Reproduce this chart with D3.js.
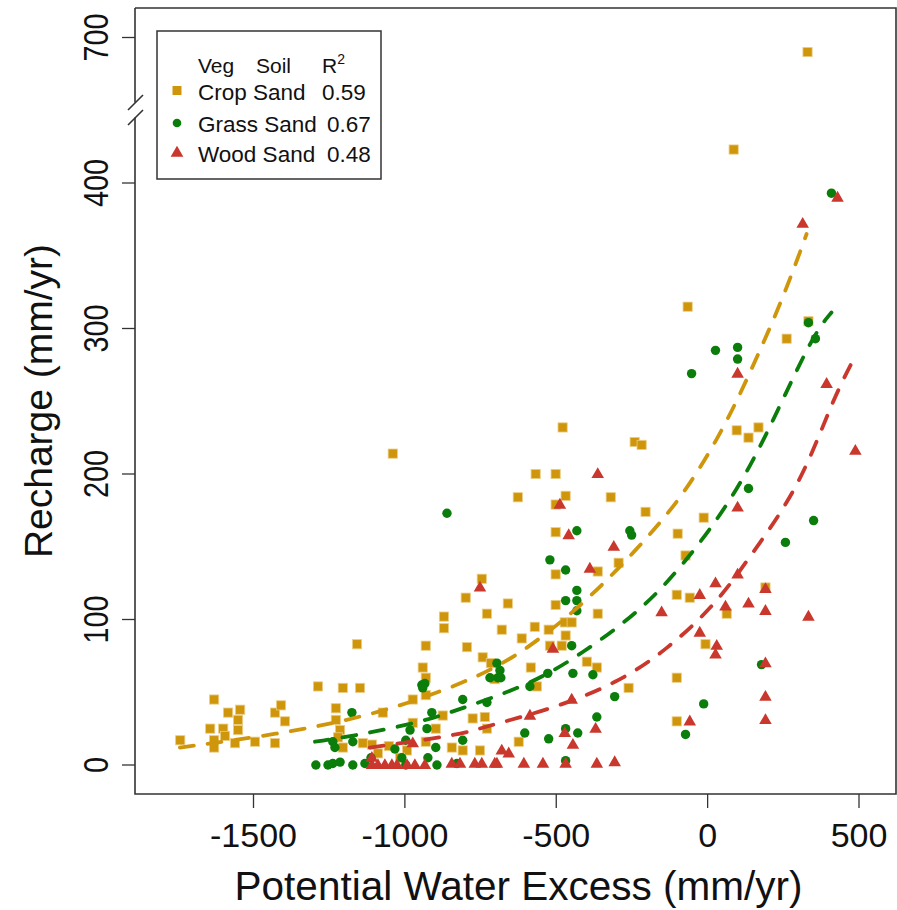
<!DOCTYPE html>
<html>
<head>
<meta charset="utf-8">
<script src="https://cdn.jsdelivr.net/npm/d3@7"></script>
<style>
  body { margin: 0; background: #fff; }
  svg text { font-family: "Liberation Sans", Arial, sans-serif; fill: #111; }
</style>
</head>
<body>
<svg id="chart" width="897" height="910"></svg>
<script>
// points: [potential water excess, recharge] in mm/yr
const cropPts = [
  [-1742,17],[-1630,45],[-1643,25],[-1584,36],[-1544,38],[-1551,31],[-1600,25],[-1594,20],
  [-1630,17],[-1630,12],[-1551,24],[-1561,15],[-1495,16],[-1429,15],[-1429,36],[-1409,41],
  [-1396,30],[-1287,54],[-1205,53],[-1148,53],[-1158,83],[-1228,39],[-1228,31],[-1214,24],
  [-1221,19],[-1205,12],[-1139,15],[-1109,14],[-1053,13],[-1073,36],[-974,45],[-941,67],
  [-931,82],[-931,60],[-931,48],[-974,29],[-898,25],[-931,16],[-993,10],[-1089,8],[-1016,5],
  [-875,34],[-871,102],[-871,94],[-799,115],[-795,81],[-845,12],[-809,10],[-776,32],
  [-736,33],[-729,25],[-743,74],[-716,70],[-752,10],[-1040,214],
  [-746,128],[-502,131],[-363,133],[-294,139],[-660,111],[-729,104],[-502,110],[-363,104],
  [-680,93],[-571,95],[-525,93],[-472,98],[-449,98],[-469,89],[-614,87],[-521,82],[-482,82],
  [-703,59],[-584,67],[-399,71],[-366,67],[-564,54],[-261,53],[-102,117],[-102,60],[-102,30],
  [-624,16],[-73,144],[-59,115],[63,104],[-7,83],[191,122],
  [-66,315],[261,293],[333,305],[-479,232],[-241,222],[-218,220],[96,230],[135,225],[168,232],
  [-568,200],[-502,200],[-627,184],[-469,185],[-320,184],[-502,179],[-205,174],[-13,170],
  [-502,160],[-99,159],[86,423],[330,690]
];
const grassPts = [
  [-1294,0],[-1254,0],[-1238,1],[-1214,2],[-1172,0],[-1175,36],[-1238,16],[-1231,12],
  [-1172,16],[-1132,1],[-1112,5],[-1033,11],[-997,17],[-983,24],[-1010,5],[-997,0],[-924,5],
  [-894,0],[-927,25],[-911,36],[-898,12],[-944,55],[-934,56],[-941,53],[-809,45],[-809,17],
  [-828,1],[-729,43],[-696,70],[-693,60],[-719,60],
  [-521,141],[-469,134],[-432,120],[-432,113],[-469,113],[-432,106],[-449,82],[-686,65],
  [-683,60],[-528,63],[-445,63],[-379,62],[-587,54],[-307,47],[-366,33],[-469,25],[-429,22],
  [-604,22],[-525,18],[-469,3],[-13,42],[-73,21],[178,69],
  [333,304],[356,293],[26,285],[99,287],[99,279],[-53,269],[135,190],[350,168],[257,153],
  [-432,161],[-257,161],[-251,158],[-861,173],[409,393]
];
const woodPts = [
  [-1109,0],[-1089,0],[-1066,0],[-1043,0],[-1026,0],[-993,0],[-967,0],[-934,0],[-1109,5],
  [-974,15],[-845,1],[-818,1],[-769,1],[-696,1],[-746,1],[-703,1],[-607,1],[-544,1],
  [-469,1],[-366,1],[-307,2],
  [-389,135],[-752,122],[-511,80],[-152,105],[-449,45],[-587,34],[-472,22],[-370,25],
  [-445,14],[-680,10],[-657,8],[-310,150],[-26,117],[26,125],[99,131],[59,109],[135,111],
  [191,121],[191,106],[333,102],[-26,91],[30,82],[26,76],[191,70],[191,47],[191,31],
  [-59,30],[99,269],[393,262],[488,216],[-363,200],[-488,179],[-459,158],[99,177],
  [314,372],[429,390]
];

// fitted curves
const cropFit = [[-1743,12],[-1386,22],[-1073,36],[-809,56],[-630,74],[-412,110],
  [-234,148],[-83,184],[50,230],[139,269],[248,320],[327,365]];
const grassFit = [[-1297,16],[-1139,21],[-917,31],[-785,41],[-578,56],[-412,77],
  [-234,104],[-92,134],[106,189],[248,251],[353,297],[409,311]];
const woodFit = [[-1116,12],[-809,21],[-743,26],[-521,38],[-300,56],[-135,79],
  [30,111],[139,143],[304,191],[413,251],[485,280]];

const xTicks = [-1500, -1000, -500, 0, 500];
const yTicks = [0, 100, 200, 300, 400, 700];
const breakGap = 200;   // values above the axis break are shifted down by this

const legendRows = [
  { veg: "Crop Sand", r2: "0.59" },
  { veg: "Grass Sand", r2: "0.67" },
  { veg: "Wood Sand", r2: "0.48" }
];

const cropCol = "#CF960C", grassCol = "#0A7D0A", woodCol = "#C9372D";

const svg = d3.select("#chart");
const box = { left: 135, right: 896, top: 8, bottom: 794 };

const x = d3.scaleLinear().domain([-1500, 500]).range([253.5, 859]);
const y = d3.scaleLinear().domain([0, 500]).range([765, 37.5]);
const yPos = v => y(v > 550 ? v - breakGap : v);

// points
const pts = svg.append("g");
pts.selectAll("rect.crop").data(cropPts).join("rect")
    .attr("class", "crop")
    .attr("x", d => x(d[0]) - 4.6)
    .attr("y", d => yPos(d[1]) - 4.6)
    .attr("width", 9.2).attr("height", 9.2)
    .attr("fill", cropCol)
    .attr("stroke", "#ebcd85").attr("stroke-width", 0.8);

pts.selectAll("circle.grass").data(grassPts).join("circle")
    .attr("class", "grass")
    .attr("cx", d => x(d[0]))
    .attr("cy", d => yPos(d[1]))
    .attr("r", 4.7)
    .attr("fill", grassCol);

const tri = d3.symbol(d3.symbolTriangle, 68);
pts.selectAll("path.wood").data(woodPts).join("path")
    .attr("class", "wood")
    .attr("transform", d => `translate(${x(d[0])},${yPos(d[1]) + 0.5})`)
    .attr("d", tri)
    .attr("fill", woodCol);

// dashed fit lines
const lineGen = d3.line()
    .x(d => x(d[0]))
    .y(d => yPos(d[1]))
    .curve(d3.curveBasis);

[[cropFit, cropCol], [grassFit, grassCol], [woodFit, woodCol]].forEach(([fit, col]) => {
    svg.append("path")
        .datum(fit)
        .attr("fill", "none")
        .attr("stroke", col)
        .attr("stroke-width", 3.8)
        .attr("stroke-linecap", "round")
        .attr("stroke-dasharray", "14,14")
        .attr("d", lineGen);
});

// frame with broken left axis
const frame = svg.append("g").attr("stroke", "#333").attr("stroke-width", 1.6).attr("fill", "none");
frame.append("path").attr("d",
    `M${box.left},${box.top}H${box.right}V${box.bottom}H${box.left}V117.5`);
frame.append("path").attr("d", `M${box.left},102.5V${box.top}`);
frame.append("line").attr("x1", 128).attr("y1", 110).attr("x2", 143).attr("y2", 95);
frame.append("line").attr("x1", 128).attr("y1", 125).attr("x2", 143).attr("y2", 110);

// x axis
const xAxis = svg.append("g");
xAxis.selectAll("line").data(xTicks).join("line")
    .attr("x1", d => x(d)).attr("x2", d => x(d))
    .attr("y1", box.bottom).attr("y2", box.bottom + 14)
    .attr("stroke", "#333").attr("stroke-width", 1.3);
xAxis.selectAll("text").data(xTicks).join("text")
    .attr("x", d => x(d)).attr("y", 847)
    .attr("text-anchor", "middle")
    .attr("font-size", 34)
    .text(d => d);

// y axis
const yAxis = svg.append("g");
yAxis.selectAll("line").data(yTicks).join("line")
    .attr("x1", box.left - 13).attr("x2", box.left)
    .attr("y1", d => yPos(d)).attr("y2", d => yPos(d))
    .attr("stroke", "#333").attr("stroke-width", 1.3);
yAxis.selectAll("text").data(yTicks).join("text")
    .attr("transform", d => `translate(108,${yPos(d)}) rotate(-90) scale(0.8,1)`)
    .attr("text-anchor", "middle")
    .attr("font-size", 36)
    .text(d => d);

// axis titles
svg.append("text")
    .attr("x", (box.left + box.right) / 2 + 3).attr("y", 900)
    .attr("text-anchor", "middle")
    .attr("font-size", 40.5)
    .text("Potential Water Excess (mm/yr)");
svg.append("text")
    .attr("transform", `translate(52,${(box.top + box.bottom) / 2}) rotate(-90)`)
    .attr("text-anchor", "middle")
    .attr("font-size", 39)
    .text("Recharge (mm/yr)");

// legend
const legend = svg.append("g");
legend.append("rect")
    .attr("x", 157).attr("y", 31).attr("width", 224).attr("height", 148)
    .attr("fill", "#fff").attr("stroke", "#333").attr("stroke-width", 1.5);
const head = legend.append("g");
head.append("text").attr("x", 198).attr("y", 73).attr("font-size", 21).text("Veg");
head.append("text").attr("x", 256).attr("y", 73).attr("font-size", 21).text("Soil");
const r2 = head.append("text").attr("x", 322).attr("y", 73).attr("font-size", 21);
r2.append("tspan").text("R");
r2.append("tspan").attr("dy", -9).attr("font-size", 14).text("2");

const rowY = [100, 132, 162];
const r2X = [322, 327, 327];
legend.selectAll("text.lab").data(legendRows).join("text")
    .attr("class", "lab")
    .attr("x", 198).attr("y", (d, i) => rowY[i])
    .attr("font-size", 22.5)
    .text(d => d.veg);
legend.selectAll("text.r2").data(legendRows).join("text")
    .attr("class", "r2")
    .attr("x", (d, i) => r2X[i]).attr("y", (d, i) => rowY[i])
    .attr("font-size", 22.5)
    .text(d => d.r2);
legend.append("rect").attr("x", 172.5).attr("y", 86).attr("width", 9).attr("height", 9)
    .attr("fill", cropCol);
legend.append("circle").attr("cx", 177).attr("cy", 123).attr("r", 4.3).attr("fill", grassCol);
legend.append("path").attr("transform", "translate(177,153)")
    .attr("d", d3.symbol(d3.symbolTriangle, 70)).attr("fill", woodCol);
</script>
</body>
</html>
